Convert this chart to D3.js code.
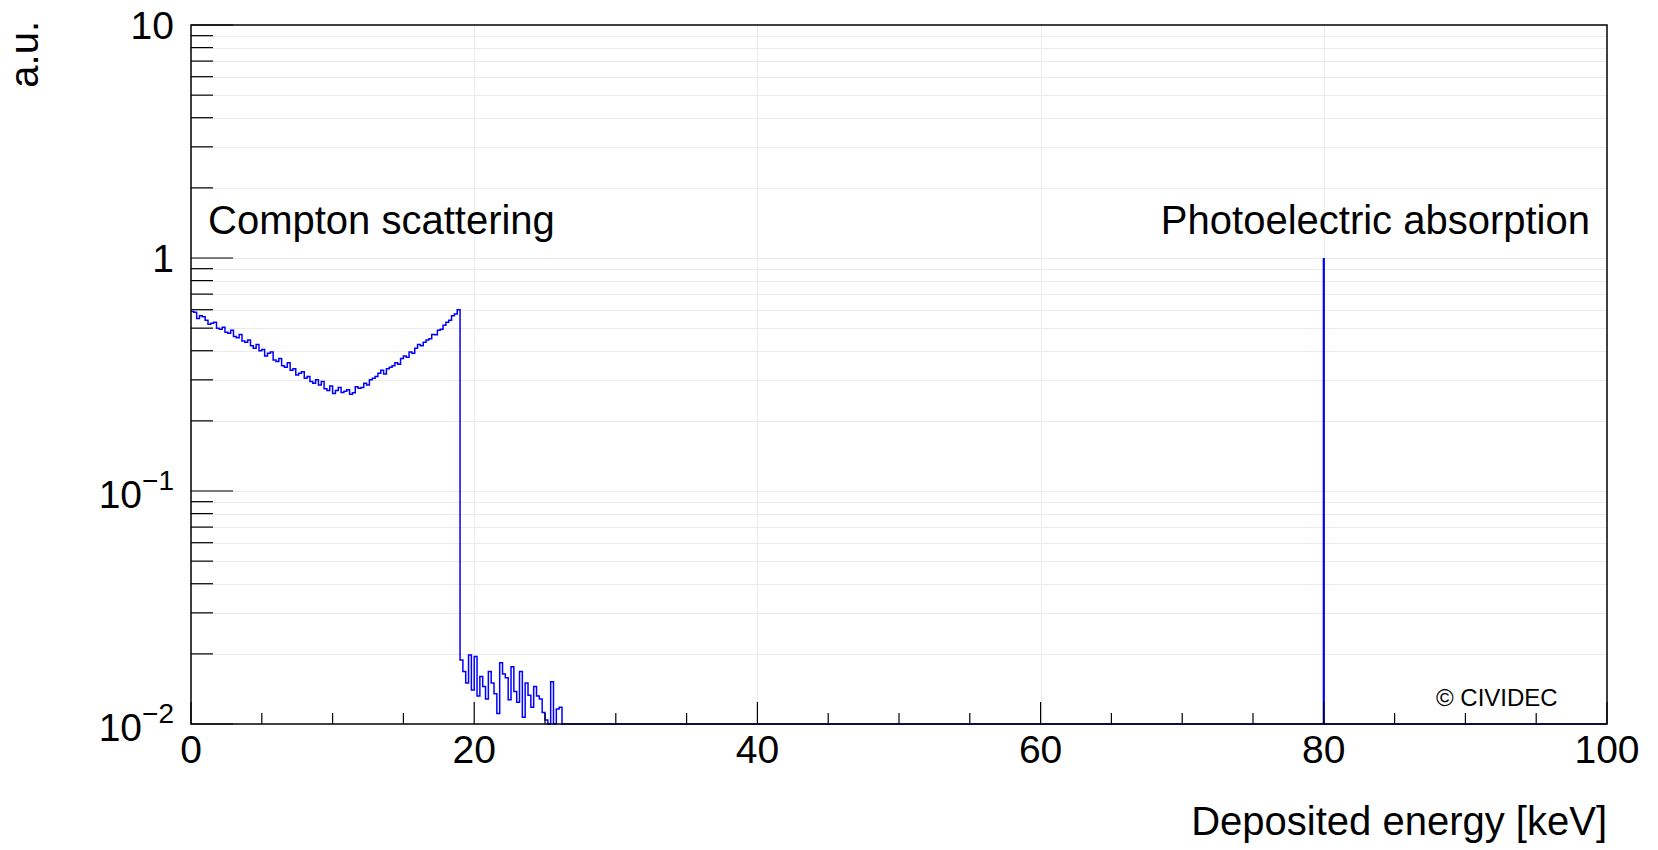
<!DOCTYPE html>
<html>
<head>
  <meta charset="utf-8">
  <title>Deposited energy spectrum</title>
  <script src="https://d3js.org/d3.v7.min.js"></script>
  <style>
    body { margin: 0; background: #fff; }
    svg { display: block; font-family: 'Liberation Sans', Arial, Helvetica, sans-serif; }
    .grid line { stroke: #ebebeb; stroke-width: 1; }
    .frame { fill: none; stroke: #000; stroke-width: 1.5; }
    .tick { stroke: #000; stroke-width: 1.2; }
  </style>
</head>
<body>
  <div id='chart'></div>
  <script>
    // histogram, 0.2 keV bins starting at 0 keV
    var binWidth = 0.2;
    var comptonCounts = [
      0.59, 0.585, 0.55, 0.565, 0.56,
      0.54, 0.52, 0.525, 0.53, 0.50,
      0.495, 0.505, 0.48, 0.475, 0.49,
      0.46, 0.455, 0.47, 0.44, 0.435,
      0.445, 0.42, 0.41, 0.425, 0.40,
      0.405, 0.38, 0.39, 0.395, 0.365,
      0.36, 0.37, 0.345, 0.34, 0.355,
      0.33, 0.335, 0.315, 0.32, 0.325,
      0.305, 0.31, 0.295, 0.29, 0.30,
      0.285, 0.295, 0.275, 0.27, 0.282,
      0.262, 0.27, 0.278, 0.265, 0.268,
      0.272, 0.26, 0.264, 0.28, 0.276,
      0.278, 0.29, 0.285, 0.30, 0.305,
      0.31, 0.32, 0.33, 0.318, 0.335,
      0.34, 0.345, 0.355, 0.35, 0.37,
      0.38, 0.375, 0.395, 0.39, 0.41,
      0.425, 0.42, 0.435, 0.445, 0.45,
      0.47, 0.468, 0.49, 0.495, 0.515,
      0.53, 0.54, 0.565, 0.575, 0.60
    ];
    // 19.0 - 26.2 keV, 0 means empty bin
    var tailCounts = [
      0.0188, 0.0168, 0.0150, 0.0198, 0.0140, 0.0195,
      0.0132, 0.0160, 0.0145, 0.0128, 0.0168, 0.0150,
      0.0135, 0.0111, 0.0183, 0.0164, 0.0158, 0.0127,
      0.0176, 0.0138, 0.0124, 0.0168, 0.0107, 0.0150,
      0.0133, 0.0118, 0.0145, 0.0132, 0.0128, 0.0112,
      0.0104, 0, 0.0152, 0, 0.0116, 0.0118
    ];
    var peakEnergy = [80];
    var peakCounts = [1];

    var xTicks = [0, 20, 40, 60, 80, 100];
    var xMinorStep = 5;
    var yDecades = [0.01, 0.1, 1, 10];
    var yTickLabels = [['10', '\u22122'], ['10', '\u22121'], ['1', ''], ['10', '']];

    var width = 1658, height = 850,
        margin = {left: 191, right: 51, top: 25, bottom: 126},
        yMin = 0.01, yMax = 10;

    var x = d3.scaleLinear().domain([0, 100]).range([margin.left, width - margin.right]);
    var y = d3.scaleLog().domain([yMin, yMax]).range([height - margin.bottom, margin.top]);

    var svg = d3.select('#chart').append('svg')
        .attr('width', width)
        .attr('height', height);

    // minor log ticks 2..9 in every decade
    var yAll = [];
    yDecades.forEach(function(d, i) {
      if (i == yDecades.length - 1) return;
      for (var k = 1; k < 10; k++) yAll.push({v: d * k, major: k == 1});
    });
    yAll.push({v: yMax, major: true});

    var grid = svg.append('g').attr('class', 'grid');
    grid.selectAll('.gy')
        .data(yAll.filter(function(d) { return d.v > yMin && d.v < yMax; }))
      .enter().append('line')
        .attr('x1', x(0)).attr('x2', x(100))
        .attr('y1', function(d) { return Math.round(y(d.v)) + 0.5; })
        .attr('y2', function(d) { return Math.round(y(d.v)) + 0.5; });
    grid.selectAll('.gx')
        .data(xTicks.slice(1, -1))
      .enter().append('line')
        .attr('y1', y(yMin)).attr('y2', y(yMax))
        .attr('x1', function(d) { return Math.round(x(d)) + 0.5; })
        .attr('x2', function(d) { return Math.round(x(d)) + 0.5; });

    // histogram as steps
    var points = [];
    comptonCounts.concat(tailCounts).forEach(function(v, i) {
      points.push([i * binWidth, v]);
    });
    var tailEnd = (comptonCounts.length + tailCounts.length) * binWidth;
    points.push([tailEnd, 0]);
    points.push([100, 0]);

    var line = d3.line()
        .curve(d3.curveStepAfter)
        .x(function(d) { return x(d[0]); })
        .y(function(d) { return y(Math.max(d[1], yMin)); });

    svg.append('path')
        .datum(points)
        .attr('d', line)
        .attr('fill', 'none')
        .attr('stroke', '#0000ff')
        .attr('stroke-width', 1.5);

    svg.selectAll('.peak')
        .data(peakEnergy)
      .enter().append('line')
        .attr('x1', function(d) { return x(d); })
        .attr('x2', function(d) { return x(d); })
        .attr('y1', y(yMin))
        .attr('y2', function(d, i) { return y(peakCounts[i]); })
        .attr('stroke', '#0000ff')
        .attr('stroke-width', 2.2);

    // ticks
    var ticks = svg.append('g');
    d3.range(0, 100 + xMinorStep / 2, xMinorStep).forEach(function(t) {
      var major = xTicks.indexOf(t) >= 0;
      ticks.append('line').attr('class', 'tick')
          .attr('x1', x(t)).attr('x2', x(t))
          .attr('y1', y(yMin)).attr('y2', y(yMin) - (major ? 22 : 11));
    });
    yAll.forEach(function(d) {
      ticks.append('line').attr('class', 'tick')
          .attr('x1', x(0)).attr('x2', x(0) + (d.major ? 42 : 22))
          .attr('y1', y(d.v)).attr('y2', y(d.v));
    });

    svg.append('rect').attr('class', 'frame')
        .attr('x', x(0)).attr('y', y(yMax))
        .attr('width', x(100) - x(0))
        .attr('height', y(yMin) - y(yMax));

    // tick labels
    svg.selectAll('.xl')
        .data(xTicks)
      .enter().append('text')
        .attr('x', function(d) { return x(d); })
        .attr('y', 763)
        .attr('text-anchor', 'middle')
        .attr('font-size', 39)
        .text(function(d) { return d; });

    var yl = svg.selectAll('.yl')
        .data(yDecades)
      .enter().append('text')
        .attr('x', 174)
        .attr('y', function(d, i) { return y(d) + (yTickLabels[i][1] ? 17 : 14); })
        .attr('text-anchor', 'end')
        .attr('font-size', 39);
    yl.append('tspan').text(function(d, i) { return yTickLabels[i][0]; });
    yl.append('tspan')
        .attr('font-size', 28)
        .attr('dy', -18)
        .text(function(d, i) { return yTickLabels[i][1]; });

    // titles and labels
    svg.append('text')
        .attr('x', x(100)).attr('y', 835)
        .attr('text-anchor', 'end')
        .attr('font-size', 40)
        .text('Deposited energy [keV]');

    svg.append('text')
        .attr('transform', 'translate(38,21) rotate(-90)')
        .attr('text-anchor', 'end')
        .attr('font-size', 40)
        .text('a.u.');

    svg.append('text')
        .attr('x', 208).attr('y', 234)
        .attr('font-size', 40)
        .text('Compton scattering');

    svg.append('text')
        .attr('x', 1590).attr('y', 234)
        .attr('text-anchor', 'end')
        .attr('font-size', 40)
        .text('Photoelectric absorption');

    svg.append('text')
        .attr('x', 1436).attr('y', 706)
        .attr('font-size', 24)
        .text('\u00a9 CIVIDEC');
  </script>
</body>
</html>
